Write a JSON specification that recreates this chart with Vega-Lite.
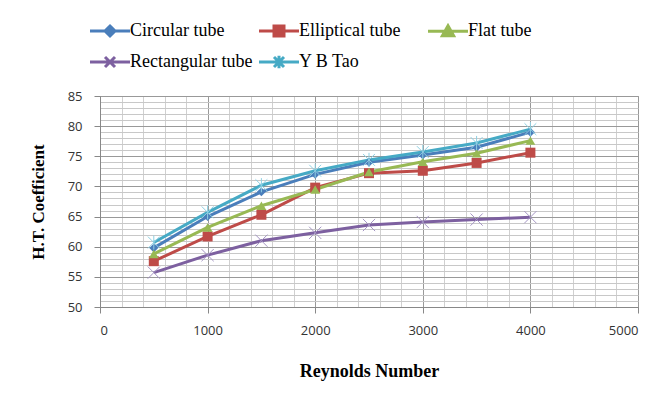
{
  "$schema": "https://vega.github.io/schema/vega-lite/v6.json",
  "width": 538,
  "height": 211,
  "autosize": "none",
  "padding": {"left": 100, "top": 96, "right": 21, "bottom": 89},
  "background": "white",
  "config": {"view": {"stroke": "#a0a0a0", "strokeWidth": 1}},
  "data": {"values": [
    {"series": "Circular tube", "Re": 500, "HTC": 59.8},
    {"series": "Circular tube", "Re": 1000, "HTC": 65.0},
    {"series": "Circular tube", "Re": 1500, "HTC": 69.1},
    {"series": "Circular tube", "Re": 2000, "HTC": 72.0},
    {"series": "Circular tube", "Re": 2500, "HTC": 74.0},
    {"series": "Circular tube", "Re": 3000, "HTC": 75.2},
    {"series": "Circular tube", "Re": 3500, "HTC": 76.5},
    {"series": "Circular tube", "Re": 4000, "HTC": 79.0},
    {"series": "Elliptical tube", "Re": 500, "HTC": 57.6},
    {"series": "Elliptical tube", "Re": 1000, "HTC": 61.7},
    {"series": "Elliptical tube", "Re": 1500, "HTC": 65.3},
    {"series": "Elliptical tube", "Re": 2000, "HTC": 69.8},
    {"series": "Elliptical tube", "Re": 2500, "HTC": 72.2},
    {"series": "Elliptical tube", "Re": 3000, "HTC": 72.6},
    {"series": "Elliptical tube", "Re": 3500, "HTC": 73.9},
    {"series": "Elliptical tube", "Re": 4000, "HTC": 75.6},
    {"series": "Flat tube", "Re": 500, "HTC": 58.8},
    {"series": "Flat tube", "Re": 1000, "HTC": 63.2},
    {"series": "Flat tube", "Re": 1500, "HTC": 66.8},
    {"series": "Flat tube", "Re": 2000, "HTC": 69.5},
    {"series": "Flat tube", "Re": 2500, "HTC": 72.4},
    {"series": "Flat tube", "Re": 3000, "HTC": 74.1},
    {"series": "Flat tube", "Re": 3500, "HTC": 75.5},
    {"series": "Flat tube", "Re": 4000, "HTC": 77.6},
    {"series": "Rectangular tube", "Re": 500, "HTC": 55.7},
    {"series": "Rectangular tube", "Re": 1000, "HTC": 58.6},
    {"series": "Rectangular tube", "Re": 1500, "HTC": 61.0},
    {"series": "Rectangular tube", "Re": 2000, "HTC": 62.3},
    {"series": "Rectangular tube", "Re": 2500, "HTC": 63.6},
    {"series": "Rectangular tube", "Re": 3000, "HTC": 64.1},
    {"series": "Rectangular tube", "Re": 3500, "HTC": 64.5},
    {"series": "Rectangular tube", "Re": 4000, "HTC": 64.9},
    {"series": "Y B Tao", "Re": 500, "HTC": 60.7},
    {"series": "Y B Tao", "Re": 1000, "HTC": 65.7},
    {"series": "Y B Tao", "Re": 1500, "HTC": 70.2},
    {"series": "Y B Tao", "Re": 2000, "HTC": 72.6},
    {"series": "Y B Tao", "Re": 2500, "HTC": 74.4},
    {"series": "Y B Tao", "Re": 3000, "HTC": 75.7},
    {"series": "Y B Tao", "Re": 3500, "HTC": 77.2},
    {"series": "Y B Tao", "Re": 4000, "HTC": 79.5}
  ]},
  "encoding": {
    "x": {
      "field": "Re", "type": "quantitative",
      "scale": {"domain": [0, 5000], "nice": false, "zero": false},
      "axis": {
        "title": "Reynolds Number",
        "titleFont": "Liberation Serif", "titleFontSize": 18, "titleFontWeight": "bold", "titleColor": "#000",
        "titlePadding": 25,
        "values": [0,200,400,600,800,1000,1200,1400,1600,1800,2000,2200,2400,2600,2800,3000,3200,3400,3600,3800,4000,4200,4400,4600,4800,5000],
        "labelExpr": "datum.value % 1000 === 0 ? datum.value : ''",
        "labelFont": "Open Sans", "labelFontSize": 13, "labelColor": "#333", "labelPadding": 11,
        "domainColor": "#888",
        "tickColor": "#888",
        "tickSize": {"condition": {"test": "datum.value % 1000 === 0", "value": 6}, "value": 0},
        "gridColor": {"condition": {"test": "datum.value % 1000 === 0", "value": "#999"}, "value": "#d0d0d0"},
        "gridOpacity": 1
      }
    },
    "y": {
      "field": "HTC", "type": "quantitative",
      "scale": {"domain": [50, 85], "nice": false, "zero": false},
      "axis": {
        "title": "H.T. Coefficient",
        "titleFont": "Liberation Serif", "titleFontSize": 17, "titleFontWeight": "bold", "titleColor": "#000",
        "titlePadding": 20,
        "values": [50,51,52,53,54,55,56,57,58,59,60,61,62,63,64,65,66,67,68,69,70,71,72,73,74,75,76,77,78,79,80,81,82,83,84,85],
        "labelExpr": "datum.value % 5 === 0 ? datum.value : ''",
        "labelFont": "Open Sans", "labelFontSize": 13, "labelColor": "#333", "labelPadding": 12,
        "domainColor": "#888",
        "tickColor": "#888",
        "tickSize": {"condition": {"test": "datum.value % 5 === 0", "value": 6}, "value": 0},
        "gridColor": {"condition": {"test": "datum.value % 5 === 0", "value": "#999"}, "value": "#c8c8c8"},
        "gridOpacity": 1
      }
    }
  },
  "layer": [
    {
      "mark": {"type": "line", "strokeWidth": 3},
      "encoding": {
        "color": {
          "field": "series", "type": "nominal",
          "scale": {"domain": ["Circular tube", "Elliptical tube", "Flat tube", "Rectangular tube", "Y B Tao"],
                    "range": ["#4A7EBB", "#BE4B48", "#98B954", "#7D60A0", "#46AAC5"]},
          "legend": {
            "title": null,
            "orient": "none",
            "legendX": -4,
            "legendY": -80,
            "direction": "horizontal",
            "columns": 3,
            "gridAlign": "all",
            "columnPadding": 0,
            "rowPadding": 5,
            "padding": 0,
            "symbolSize": 625,
            "symbolStrokeWidth": 3,
            "symbolType": "M-1.6,0H1.6",
            "labelOffset": 6,
            "labelFont": "Liberation Serif",
            "labelFontSize": 18,
            "labelColor": "#000",
            "labelLimit": 300,
            "encode": {
              "symbols": {
                "update": {
                  "shape": {"signal": "datum.value === 'Circular tube' ? 'M-1.6,0H1.6M0,-0.4L0.4,0L0,0.4L-0.4,0Z' : datum.value === 'Elliptical tube' ? 'M-1.6,0H1.6M-0.4,-0.4H0.4V0.4H-0.4Z' : datum.value === 'Flat tube' ? 'M-1.6,0H1.6M0,-0.45L0.45,0.35H-0.45Z' : datum.value === 'Rectangular tube' ? 'M-1.6,0H1.6M-0.4,-0.4L0.4,0.4M0.4,-0.4L-0.4,0.4' : 'M-1.6,0H1.6M-0.4,-0.4L0.4,0.4M0.4,-0.4L-0.4,0.4M0,-0.5V0.5'"},
                  "stroke": {"scale": "color", "field": "value"},
                  "fill": {"scale": "color", "field": "value"},
                  "strokeWidth": {"value": 3},
                  "opacity": {"value": 1}
                }
              }
            }
          }
        }
      }
    },
    {
      "transform": [{"filter": "datum.series === 'Circular tube'"}],
      "mark": {"type": "point", "shape": "diamond", "filled": true, "opacity": 1, "size": 80, "color": "#4A7EBB"}
    },
    {
      "transform": [{"filter": "datum.series === 'Elliptical tube'"}],
      "mark": {"type": "point", "shape": "square", "filled": true, "opacity": 1, "size": 100, "color": "#BE4B48"}
    },
    {
      "transform": [{"filter": "datum.series === 'Flat tube'"}],
      "mark": {"type": "point", "shape": "triangle-up", "filled": true, "opacity": 1, "size": 95, "color": "#98B954"}
    },
    {
      "transform": [{"filter": "datum.series === 'Rectangular tube'"}],
      "mark": {"type": "point", "shape": "M-1,-1L1,1M1,-1L-1,1", "filled": false, "opacity": 1, "size": 150, "strokeWidth": 1, "color": "#A596C4"}
    },
    {
      "transform": [{"filter": "datum.series === 'Y B Tao'"}],
      "mark": {"type": "point", "shape": "M-1,-1L1,1M1,-1L-1,1M0,-1.2V1.2", "filled": false, "opacity": 1, "size": 140, "strokeWidth": 1, "color": "#8ED0E2"}
    }
  ]
}
